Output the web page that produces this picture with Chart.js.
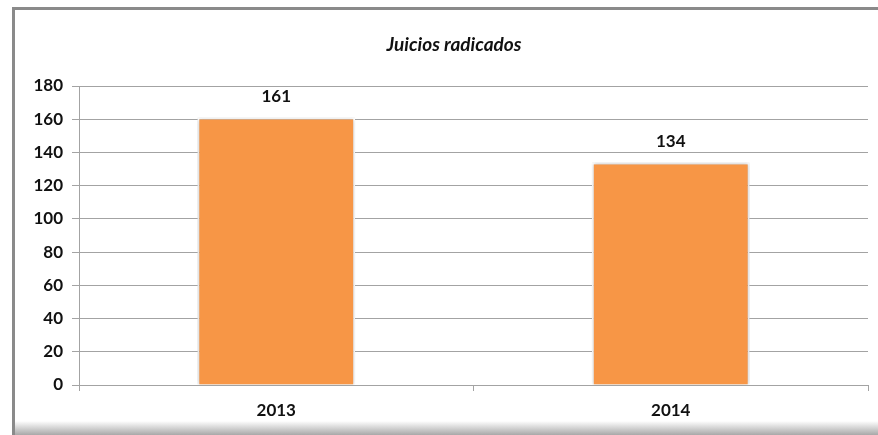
<!DOCTYPE html>
<html>
<head>
<meta charset="utf-8">
<script src="https://cdn.jsdelivr.net/npm/chart.js@4"></script>
<style>
  html, body { margin:0; padding:0; background:#fff; }
  #wrap { position:relative; width:878px; height:435px; overflow:hidden; background:#fff; }
  #frame { position:absolute; left:12px; top:7px; width:900px; height:440px;
           border-left:3px solid #8a8a8a; border-top:3px solid #8a8a8a; box-sizing:border-box; }
  #shade { position:absolute; left:15px; right:0; bottom:0; height:14px;
           background:linear-gradient(to bottom, rgba(255,255,255,0), #a8a8a8); }
  canvas { position:absolute; left:0; top:0; }
</style>
</head>
<body>
<div id="wrap">
  <div id="frame"></div>
  <div id="shade"></div>
  <canvas id="c" width="878" height="435"></canvas>
</div>
<script>
const titleText = "Juicios radicados";
const categories = ["2013", "2014"];
const values = [161, 134];
const yTicks = [0, 20, 40, 60, 80, 100, 120, 140, 160, 180];

const FONT = "Lato, 'Open Sans', sans-serif";
const GRID = "#a3a3a3";

const titlePlugin = {
  id: "titleP",
  afterDraw(chart) {
    const ctx = chart.ctx;
    ctx.save();
    ctx.font = "italic bold 19px " + FONT;
    ctx.fillStyle = "#111";
    ctx.textAlign = "center";
    ctx.textBaseline = "middle";
    ctx.fillText(titleText, 454, 45);
    ctx.restore();
  }
};

const labelPlugin = {
  id: "labelsP",
  afterDatasetsDraw(chart) {
    const ctx = chart.ctx;
    const meta = chart.getDatasetMeta(0);
    ctx.save();
    ctx.font = "bold 17px " + FONT;
    ctx.fillStyle = "#111";
    ctx.textAlign = "center";
    ctx.textBaseline = "middle";
    meta.data.forEach((bar, i) => {
      ctx.fillText(String(values[i]), bar.x, bar.y - 21);
    });
    ctx.restore();
  }
};

const shadowPlugin = {
  id: "shadowP",
  beforeDatasetsDraw(chart) {
    const ctx = chart.ctx;
    ctx.save();
    ctx.shadowColor = "rgba(0,0,0,0.25)";
    ctx.shadowBlur = 4;
  },
  afterDatasetsDraw(chart) {
    chart.ctx.restore();
  }
};

new Chart(document.getElementById("c"), {
  type: "bar",
  data: {
    labels: categories,
    datasets: [{
      data: values,
      backgroundColor: "#F79646",
      borderColor: "#ffffff",
      borderWidth: 2,
      barPercentage: 0.4,
      categoryPercentage: 1.0
    }]
  },
  options: {
    responsive: false,
    animation: false,
    devicePixelRatio: 1,
    layout: { padding: { top: 86, right: 10, left: 0, bottom: 0 } },
    plugins: { legend: { display: false }, title: { display: false }, tooltip: { enabled: false } },
    scales: {
      x: {
        offset: true,
        afterFit(scale) { scale.height = 50; },
        grid: { display: true, offset: true, drawOnChartArea: false, drawTicks: true, tickLength: 6, color: GRID, lineWidth: 1 },
        border: { display: true, color: GRID, width: 1 },
        ticks: { color: "#111", font: { family: FONT, size: 17, weight: "bold" }, padding: 9 }
      },
      y: {
        min: 0, max: 180,
        afterFit(scale) { scale.width = 79; },
        afterBuildTicks(scale) { scale.ticks = yTicks.map(v => ({ value: v })); },
        grid: { color: GRID, lineWidth: 1, tickLength: 7, drawTicks: true },
        border: { display: true, color: GRID, width: 1 },
        ticks: { color: "#111", font: { family: FONT, size: 17, weight: "bold" }, padding: 9 }
      }
    }
  },
  plugins: [shadowPlugin, labelPlugin, titlePlugin]
});
</script>
</body>
</html>
